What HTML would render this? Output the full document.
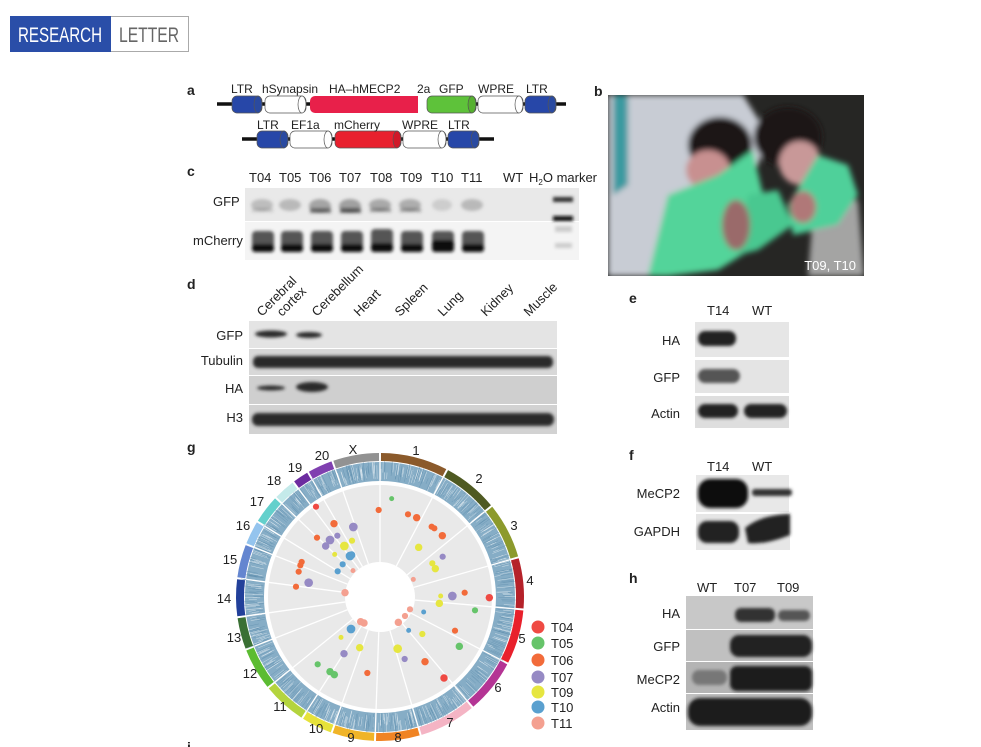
<!DOCTYPE html>
<html><head><meta charset="utf-8"><style>
html,body{margin:0;padding:0;background:#fff;width:981px;height:747px;overflow:hidden}
svg{display:block;font-family:"Liberation Sans",sans-serif}
</style></head><body>
<svg id="s" width="981" height="747" viewBox="0 0 981 747" xmlns="http://www.w3.org/2000/svg">
<defs>
<filter id="b1" x="-50%" y="-50%" width="200%" height="200%"><feGaussianBlur stdDeviation="1.6"/></filter>
<filter id="b2" x="-50%" y="-50%" width="200%" height="200%"><feGaussianBlur stdDeviation="3"/></filter>
</defs>
<!-- header -->
<rect x="10.5" y="16.5" width="178" height="35" fill="#fff" stroke="#aaa"/>
<rect x="10" y="16" width="101" height="36" fill="#2a4ea8"/>
<text x="60" y="42" font-size="21" fill="#fff" text-anchor="middle" textLength="84" lengthAdjust="spacingAndGlyphs">RESEARCH</text>
<text x="149" y="42" font-size="21" fill="#666" text-anchor="middle" textLength="60" lengthAdjust="spacingAndGlyphs">LETTER</text>

<g font-weight="bold" font-size="14" fill="#222">
<text x="187" y="95">a</text><text x="594" y="96">b</text><text x="187" y="176">c</text>
<text x="187" y="289">d</text><text x="629" y="303">e</text><text x="629" y="460">f</text>
<text x="187" y="452">g</text><text x="629" y="583">h</text><text x="187" y="752">i</text>
</g>

<!-- panel a -->
<g font-size="12" fill="#222">
<line x1="217" y1="104" x2="566" y2="104" stroke="#111" stroke-width="3.5"/>
<line x1="242" y1="139" x2="494" y2="139" stroke="#111" stroke-width="3.5"/>
<g stroke="#555" stroke-width="0.7">
<rect x="232" y="96" width="30" height="17" rx="5" fill="#2747a8"/><ellipse cx="258" cy="104.5" rx="4" ry="8.5" fill="#2a4aa0"/>
<rect x="265" y="96" width="41" height="17" rx="5" fill="#fff"/><ellipse cx="302" cy="104.5" rx="4" ry="8.5" fill="#fff"/>
<rect x="310" y="96" width="116" height="17" rx="5" fill="#e8204a" stroke="none"/>
<rect x="418" y="96" width="12" height="17" fill="#fff" stroke="none"/>
<rect x="427" y="96" width="49" height="17" rx="5" fill="#5ec23a"/><ellipse cx="472" cy="104.5" rx="4" ry="8.5" fill="#56b030"/>
<rect x="478" y="96" width="45" height="17" rx="5" fill="#fff"/><ellipse cx="519" cy="104.5" rx="4" ry="8.5" fill="#fff"/>
<rect x="525" y="96" width="31" height="17" rx="5" fill="#2747a8"/><ellipse cx="552" cy="104.5" rx="4" ry="8.5" fill="#2a4aa0"/>
<rect x="257" y="131" width="31" height="17" rx="5" fill="#2747a8"/><ellipse cx="284" cy="139.5" rx="4" ry="8.5" fill="#2a4aa0"/>
<rect x="290" y="131" width="42" height="17" rx="5" fill="#fff"/><ellipse cx="328" cy="139.5" rx="4" ry="8.5" fill="#fff"/>
<rect x="335" y="131" width="66" height="17" rx="5" fill="#e8202e"/><ellipse cx="397" cy="139.5" rx="4" ry="8.5" fill="#d01828"/>
<rect x="403" y="131" width="43" height="17" rx="5" fill="#fff"/><ellipse cx="442" cy="139.5" rx="4" ry="8.5" fill="#fff"/>
<rect x="448" y="131" width="31" height="17" rx="5" fill="#2747a8"/><ellipse cx="475" cy="139.5" rx="4" ry="8.5" fill="#2a4aa0"/>
</g>
<text x="231" y="93">LTR</text><text x="262" y="93">hSynapsin</text><text x="329" y="93">HA–hMECP2</text>
<text x="417" y="93">2a</text><text x="439" y="93">GFP</text><text x="478" y="93">WPRE</text><text x="526" y="93">LTR</text>
<text x="257" y="129">LTR</text><text x="291" y="129">EF1a</text><text x="334" y="129">mCherry</text><text x="402" y="129">WPRE</text><text x="448" y="129">LTR</text>
</g>

<!-- panel c -->
<g font-size="13" fill="#222">
<text x="249" y="182">T04</text><text x="279" y="182">T05</text><text x="309" y="182">T06</text><text x="339" y="182">T07</text>
<text x="370" y="182">T08</text><text x="400" y="182">T09</text><text x="431" y="182">T10</text><text x="461" y="182">T11</text>
<text x="503" y="182">WT</text><text x="529" y="182">H<tspan font-size="8" dy="3">2</tspan><tspan dy="-3">O marker</tspan></text>
<text x="213" y="206">GFP</text><text x="193" y="245">mCherry</text>
</g>
<rect x="245" y="188" width="334" height="33" fill="#e9e9e9"/>
<rect x="245" y="222" width="334" height="38" fill="#f4f4f4"/>
<g filter="url(#b1)">
<g fill="#999"><ellipse cx="262" cy="205" rx="11" ry="6" opacity=".55"/><ellipse cx="290" cy="205" rx="11" ry="6" opacity=".6"/>
<ellipse cx="320" cy="206" rx="11" ry="7" opacity=".85"/><ellipse cx="350" cy="206" rx="11" ry="7" opacity=".9"/>
<ellipse cx="380" cy="205" rx="11" ry="6" opacity=".8"/><ellipse cx="410" cy="205" rx="11" ry="6" opacity=".75"/>
<ellipse cx="442" cy="205" rx="10" ry="6" opacity=".35"/><ellipse cx="472" cy="205" rx="11" ry="6" opacity=".6"/></g>
<g fill="#333"><rect x="252" y="208" width="21" height="4" opacity=".2"/><rect x="310" y="208" width="21" height="5" opacity=".6"/><rect x="340" y="208" width="21" height="5" opacity=".7"/><rect x="370" y="208" width="21" height="4" opacity=".45"/><rect x="400" y="208" width="21" height="4" opacity=".4"/></g>
<rect x="553" y="197" width="20" height="5" fill="#333"/><rect x="553" y="216" width="20" height="5" fill="#111"/>
<g fill="#555"><rect x="252" y="231" width="22" height="21" rx="4"/><rect x="281" y="231" width="22" height="21" rx="4"/><rect x="311" y="231" width="22" height="21" rx="4"/><rect x="341" y="231" width="22" height="21" rx="4"/><rect x="371" y="229" width="22" height="23" rx="4"/><rect x="401" y="231" width="22" height="21" rx="4"/><rect x="432" y="231" width="22" height="21" rx="4"/><rect x="462" y="231" width="22" height="21" rx="4"/></g>
<g fill="#111"><rect x="252" y="244" width="22" height="8" rx="3"/><rect x="281" y="244" width="22" height="8" rx="3"/><rect x="311" y="244" width="22" height="8" rx="3"/><rect x="341" y="244" width="22" height="8" rx="3"/><rect x="371" y="243" width="22" height="9" rx="3"/><rect x="401" y="244" width="22" height="8" rx="3"/><rect x="432" y="240" width="22" height="12" rx="3"/><rect x="462" y="244" width="22" height="8" rx="3"/></g>
<rect x="555" y="226" width="17" height="6" fill="#ccc"/><rect x="555" y="243" width="17" height="5" fill="#ccc"/>
</g>

<!-- panel b photo -->
<svg x="608" y="95" width="256" height="181" viewBox="0 0 256 181">
<rect width="256" height="181" fill="#262624"/>
<g filter="url(#b2)">
<path d="M0 0H135L160 40 150 70 60 181H0Z" fill="#c8ccd4"/>
<path d="M5 0H20V90L5 100Z" fill="#3a9aa0"/>
<path d="M205 120L250 105 256 181H200Z" fill="#d8d8d8" opacity=".7"/>
<ellipse cx="112" cy="50" rx="32" ry="28" fill="#1a1414"/>
<ellipse cx="180" cy="42" rx="34" ry="30" fill="#1c1616"/>
<ellipse cx="100" cy="75" rx="22" ry="20" fill="#c89090"/>
<ellipse cx="192" cy="68" rx="21" ry="22" fill="#c89898"/>
<path d="M60 100 L110 80 145 55 148 70 160 120 150 150 110 175 60 181 40 181 Z" fill="#52d49a"/>
<path d="M140 100 L170 95 185 130 150 155 130 160Z" fill="#48c890"/>
<path d="M210 60 L240 70 250 100 230 130 185 140 180 110Z" fill="#4fd09a"/>
<ellipse cx="128" cy="130" rx="14" ry="25" fill="#9a6a6a"/>
<ellipse cx="195" cy="112" rx="13" ry="16" fill="#b07878"/>
</g>
<text x="248" y="175" font-size="13" fill="#fff" text-anchor="end">T09, T10</text>
</svg>

<!-- panel d -->
<g font-size="13" fill="#222">
<text transform="translate(262,317) rotate(-45)">Cerebral</text>
<text transform="translate(282,317) rotate(-45)">cortex</text>
<text transform="translate(317,317) rotate(-45)">Cerebellum</text>
<text transform="translate(359,317) rotate(-45)">Heart</text>
<text transform="translate(400,317) rotate(-45)">Spleen</text>
<text transform="translate(443,317) rotate(-45)">Lung</text>
<text transform="translate(486,317) rotate(-45)">Kidney</text>
<text transform="translate(529,317) rotate(-45)">Muscle</text>
<text x="243" y="340" text-anchor="end">GFP</text><text x="243" y="365" text-anchor="end">Tubulin</text>
<text x="243" y="393" text-anchor="end">HA</text><text x="243" y="422" text-anchor="end">H3</text>
</g>
<rect x="249" y="321" width="308" height="27" fill="#e4e4e4"/>
<rect x="249" y="349" width="308" height="26" fill="#d8d8d8"/>
<rect x="249" y="376" width="308" height="28" fill="#cfcfcf"/>
<rect x="249" y="405" width="308" height="29" fill="#d2d2d2"/>
<g fill="#2a2a2a" filter="url(#b1)">
<ellipse cx="271" cy="334" rx="16" ry="3.5"/><ellipse cx="309" cy="335" rx="13" ry="3"/>
<rect x="253" y="356" width="300" height="12" rx="5"/>
<ellipse cx="271" cy="388" rx="14" ry="2.5"/><ellipse cx="312" cy="387" rx="16" ry="5"/>
<rect x="252" y="413" width="302" height="13" rx="6"/>
</g>

<!-- panels e f h -->
<g font-size="13" fill="#222">
<text x="707" y="315">T14</text><text x="752" y="315">WT</text>
<text x="680" y="345" text-anchor="end">HA</text><text x="680" y="382" text-anchor="end">GFP</text><text x="680" y="418" text-anchor="end">Actin</text>
<text x="707" y="471">T14</text><text x="752" y="471">WT</text>
<text x="680" y="498" text-anchor="end">MeCP2</text><text x="680" y="536" text-anchor="end">GAPDH</text>
<text x="697" y="592">WT</text><text x="734" y="592">T07</text><text x="777" y="592">T09</text>
<text x="680" y="618" text-anchor="end">HA</text><text x="680" y="651" text-anchor="end">GFP</text>
<text x="680" y="684" text-anchor="end">MeCP2</text><text x="680" y="712" text-anchor="end">Actin</text>
</g>
<rect x="695" y="322" width="94" height="35" fill="#e6e6e6"/>
<rect x="695" y="360" width="94" height="33" fill="#e4e4e4"/>
<rect x="695" y="396" width="94" height="32" fill="#dedede"/>
<rect x="696" y="475" width="93" height="37" fill="#e8e8e8"/>
<rect x="696" y="514" width="94" height="36" fill="#e6e6e6"/>
<rect x="686" y="596" width="127" height="33" fill="#c8c8c8"/>
<rect x="686" y="630" width="127" height="31" fill="#c0c0c0"/>
<rect x="686" y="662" width="127" height="31" fill="#b4b4b4"/>
<rect x="686" y="694" width="127" height="36" fill="#c0c0c0"/>
<g filter="url(#b1)" fill="#222">
<rect x="698" y="331" width="38" height="15" rx="7"/>
<rect x="698" y="369" width="42" height="14" rx="7" fill="#555"/>
<rect x="698" y="404" width="40" height="14" rx="7"/><rect x="744" y="404" width="43" height="14" rx="7"/>
<rect x="698" y="479" width="50" height="29" rx="12" fill="#111"/><rect x="752" y="489" width="40" height="7" rx="3" fill="#333"/>
<rect x="698" y="521" width="41" height="22" rx="9"/><path d="M745 528 Q760 515 790 514 L790 535 Q765 545 748 543Z"/>
<rect x="735" y="608" width="40" height="14" rx="6" fill="#333"/><rect x="778" y="610" width="32" height="11" rx="5" fill="#555"/>
<rect x="730" y="635" width="82" height="22" rx="9"/>
<rect x="692" y="670" width="35" height="15" rx="7" fill="#777"/><rect x="730" y="666" width="82" height="25" rx="7" fill="#1a1a1a"/>
<rect x="688" y="698" width="124" height="28" rx="12" fill="#1a1a1a"/>
</g>

<!-- panel g circos -->
<g id="circ"></g>
<g font-size="13" fill="#222" text-anchor="middle">
<text x="353" y="454">X</text><text x="416" y="455">1</text><text x="479" y="483">2</text>
<text x="514" y="530">3</text><text x="530" y="585">4</text><text x="522" y="643">5</text>
<text x="498" y="692">6</text><text x="450" y="727">7</text><text x="398" y="742">8</text>
<text x="351" y="742">9</text><text x="316" y="733">10</text><text x="280" y="711">11</text>
<text x="250" y="678">12</text><text x="234" y="642">13</text><text x="224" y="603">14</text>
<text x="230" y="564">15</text><text x="243" y="530">16</text><text x="257" y="506">17</text>
<text x="274" y="485">18</text><text x="295" y="472">19</text><text x="322" y="460">20</text>
</g>
<g font-size="13" fill="#222">
<circle cx="538" cy="627" r="6.5" fill="#ef4a43"/><text x="551" y="632">T04</text>
<circle cx="538" cy="643" r="6.5" fill="#66c46a"/><text x="551" y="648">T05</text>
<circle cx="538" cy="660" r="6.5" fill="#f26b3a"/><text x="551" y="665">T06</text>
<circle cx="538" cy="677" r="6.5" fill="#968ac4"/><text x="551" y="682">T07</text>
<circle cx="538" cy="692" r="6.5" fill="#e6e640"/><text x="551" y="697">T09</text>
<circle cx="538" cy="707" r="6.5" fill="#5aa0cf"/><text x="551" y="712">T10</text>
<circle cx="538" cy="723" r="6.5" fill="#f4a090"/><text x="551" y="728">T11</text>
</g>
</svg>
<script>
(function(){
var NS="http://www.w3.org/2000/svg",g=document.getElementById("circ");
var cx=380,cy=597;
function el(n,a){var e=document.createElementNS(NS,n);for(var k in a)e.setAttribute(k,a[k]);g.appendChild(e);return e;}
function pt(r,a){var t=(a-90)*Math.PI/180;return [cx+r*Math.cos(t),cy+r*Math.sin(t)];}
function arc(r1,r2,a1,a2){var p1=pt(r2,a1),p2=pt(r2,a2),p3=pt(r1,a2),p4=pt(r1,a1),l=(a2-a1)>180?1:0;
return "M"+p1+"A"+r2+","+r2+" 0 "+l+" 1 "+p2+"L"+p3+"A"+r1+","+r1+" 0 "+l+" 0 "+p4+"Z";}
var ends=[0,27.8,50.8,74,95,117.5,140,163.6,182,199.6,212.7,231,248.6,261.9,277.5,291.5,301.6,313.6,323,330,340.7,360];
var cols=["#8b5a2b","#4f5a22","#8c9a2c","#b5222a","#e8202c","#b43494","#f4b4c4","#f08424","#f0b428","#e6e23a","#b4d43e","#5cbc32","#3a7034","#22409a","#6486d0","#94c4ee","#64d0cc","#c4eaea","#6c2ca0","#8040b0","#929292"];
el("path",{d:arc(116,135,0,359.99),fill:"#86adc6"});
var seed=7;function rnd(){seed=(seed*16807)%2147483647;return seed/2147483647;}
for(var i=0;i<800;i++){var a=rnd()*360,r=116+rnd()*10;var p=pt(r,a),q=pt(r+6+rnd()*12,a);
el("line",{x1:p[0],y1:p[1],x2:q[0],y2:q[1],stroke:rnd()<.5?"#ffffff":"#5a8aaa","stroke-width":.5,opacity:.6});}
el("circle",{cx:cx,cy:cy,r:112,fill:"#e9e9e9"});
el("circle",{cx:cx,cy:cy,r:35,fill:"#fff"});
for(var i=0;i<21;i++){
 el("path",{d:arc(136,144,ends[i]+0.4,ends[i+1]-0.4),fill:cols[i]});
 var p=pt(35,ends[i]),q=pt(135,ends[i]);
 el("line",{x1:p[0],y1:p[1],x2:q[0],y2:q[1],stroke:"#fff","stroke-width":1.3});
}
var C={r:"#ef4a43",g:"#66c46a",o:"#f26b3a",p:"#968ac4",y:"#e6e640",b:"#5aa0cf",k:"#f4a090"};
var D=[["r",378,200,5],["r",898,473,6],["r",762,714,6],
["g",605,176,4],["g",855,511,5],["g",808,619,6],["g",383,673,5],["g",420,695,6],["g",433,704,6],
["o",566,210,5],["o",654,223,5],["o",680,233,6],["o",725,260,5],["o",733,265,5],["o",757,287,6],["o",432,251,6],["o",381,293,5],["o",335,366,5],["o",331,376,5],["o",326,395,5],["o",318,440,5],["o",824,458,5],["o",795,572,5],["o",705,665,6],["o",532,699,5],
["p",490,261,7],["p",442,287,5],["p",420,300,7],["p",407,318,6],["p",758,350,5],["p",356,428,7],["p",787,468,7],["p",462,641,6],["p",644,657,5],
["y",486,302,5],["y",463,318,7],["y",686,322,6],["y",434,343,4],["y",727,370,5],["y",736,386,6],["y",752,468,4],["y",748,490,6],["y",697,582,5],["y",623,626,7],["y",509,623,6],["y",453,592,4],
["b",480,348,7],["b",485,345,6],["b",458,373,5],["b",443,394,5],["b",701,516,4],["b",656,571,4],["b",483,567,7],
["k",489,392,4],["k",670,418,4],["k",465,458,6],["k",660,508,5],["k",645,528,5],["k",625,547,6],["k",512,545,6],["k",522,549,6]];
D.forEach(function(d){el("circle",{cx:190+d[1]/3,cy:440+d[2]/3,r:d[3]*0.62,fill:C[d[0]]});});
})();
</script>
</body></html>
